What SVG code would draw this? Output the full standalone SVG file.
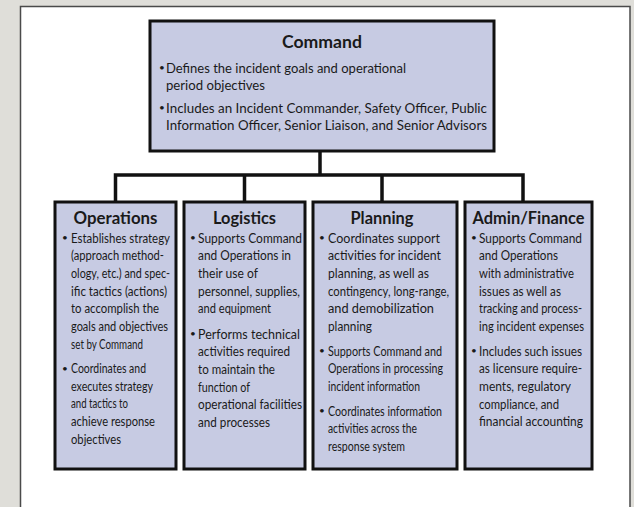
<svg xmlns="http://www.w3.org/2000/svg" width="634" height="507" viewBox="0 0 634 507">
<style>
.bg{fill:#dfded9}
.panel{fill:#ffffff;stroke:#4a4a4a;stroke-width:1.5}
.box{fill:#c7cbe3;stroke:#111111;stroke-width:3}
.conn{fill:none;stroke:#111111;stroke-width:3.5;stroke-linejoin:miter}
.title{font-family:Lato,"Open Sans","Liberation Sans",sans-serif;font-weight:bold;font-size:16.5px;fill:#1a1a1a;text-anchor:middle}
.t{font-family:Lato,"Open Sans","Liberation Sans",sans-serif;font-size:13.5px;fill:#1a1a1a}
.ct{font-family:Lato,"Open Sans","Liberation Sans",sans-serif;font-size:13px;fill:#1a1a1a}
.b{font-family:Lato,"Open Sans","Liberation Sans",sans-serif;font-size:10px;fill:#1a1a1a}
</style>
<rect class="bg" x="0" y="0" width="634" height="507"/>
<rect class="panel" x="20.5" y="6.5" width="609.5" height="520"/>
<g id="connectors">
<path class="conn" d="M320 151 V175 M115.5 202 V175 H523 V202 M244.5 175 V202 M382 175 V202"/>
</g>
<g id="command">
<rect class="box" x="150" y="21" width="344" height="130"/>
<text class="title" x="322" y="47.5" textLength="80" lengthAdjust="spacingAndGlyphs">Command</text>
<text class="b" x="159" y="71">•</text>
<text class="ct" x="166" y="72.5" textLength="240" lengthAdjust="spacingAndGlyphs">Defines the incident goals and operational</text>
<text class="ct" x="166" y="89.5" textLength="99" lengthAdjust="spacingAndGlyphs">period objectives</text>
<text class="b" x="159" y="111">•</text>
<text class="ct" x="166" y="112.5" textLength="321" lengthAdjust="spacingAndGlyphs">Includes an Incident Commander, Safety Officer,  Public</text>
<text class="ct" x="166" y="129.5" textLength="321" lengthAdjust="spacingAndGlyphs">Information Officer, Senior Liaison, and Senior Advisors</text>
</g>
<g id="operations">
<rect class="box" x="55" y="202" width="121" height="267"/>
<text class="title" x="115.5" y="223.5" textLength="84" lengthAdjust="spacingAndGlyphs">Operations</text>
<text class="b" x="62" y="241">•</text>
<text class="t" x="71" y="242.5" textLength="99" lengthAdjust="spacingAndGlyphs">Establishes strategy</text>
<text class="t" x="71" y="260.2" textLength="93" lengthAdjust="spacingAndGlyphs">(approach method-</text>
<text class="t" x="71" y="277.9" textLength="99" lengthAdjust="spacingAndGlyphs">ology, etc.) and spec-</text>
<text class="t" x="71" y="295.6" textLength="96" lengthAdjust="spacingAndGlyphs">ific tactics (actions)</text>
<text class="t" x="71" y="313.3" textLength="88" lengthAdjust="spacingAndGlyphs">to accomplish the</text>
<text class="t" x="71" y="331" textLength="97" lengthAdjust="spacingAndGlyphs">goals and objectives</text>
<text class="t" x="71" y="348.7" textLength="72" lengthAdjust="spacingAndGlyphs">set by Command</text>
<text class="b" x="62" y="371.5">•</text>
<text class="t" x="71" y="373" textLength="75" lengthAdjust="spacingAndGlyphs">Coordinates and</text>
<text class="t" x="71" y="390.7" textLength="82" lengthAdjust="spacingAndGlyphs">executes strategy</text>
<text class="t" x="71" y="408.4" textLength="57" lengthAdjust="spacingAndGlyphs">and tactics to</text>
<text class="t" x="71" y="426.1" textLength="84" lengthAdjust="spacingAndGlyphs">achieve response</text>
<text class="t" x="71" y="443.8" textLength="50" lengthAdjust="spacingAndGlyphs">objectives</text>
</g>
<g id="logistics">
<rect class="box" x="184" y="202" width="121" height="267"/>
<text class="title" x="244.5" y="223.5" textLength="63" lengthAdjust="spacingAndGlyphs">Logistics</text>
<text class="b" x="190" y="241">•</text>
<text class="t" x="198" y="242.5" textLength="104" lengthAdjust="spacingAndGlyphs">Supports Command</text>
<text class="t" x="198" y="260.2" textLength="93" lengthAdjust="spacingAndGlyphs">and Operations in</text>
<text class="t" x="198" y="277.9" textLength="60" lengthAdjust="spacingAndGlyphs">their use of</text>
<text class="t" x="198" y="295.6" textLength="102" lengthAdjust="spacingAndGlyphs">personnel, supplies,</text>
<text class="t" x="198" y="313.3" textLength="73" lengthAdjust="spacingAndGlyphs">and equipment</text>
<text class="b" x="190" y="337">•</text>
<text class="t" x="198" y="338.5" textLength="102" lengthAdjust="spacingAndGlyphs">Performs technical</text>
<text class="t" x="198" y="356.2" textLength="92" lengthAdjust="spacingAndGlyphs">activities required</text>
<text class="t" x="198" y="373.9" textLength="77" lengthAdjust="spacingAndGlyphs">to maintain the</text>
<text class="t" x="198" y="391.6" textLength="52" lengthAdjust="spacingAndGlyphs">function of</text>
<text class="t" x="198" y="409.3" textLength="104" lengthAdjust="spacingAndGlyphs">operational facilities</text>
<text class="t" x="198" y="427" textLength="72" lengthAdjust="spacingAndGlyphs">and processes</text>
</g>
<g id="planning">
<rect class="box" x="313" y="202" width="144" height="267"/>
<text class="title" x="382" y="223.5" textLength="63" lengthAdjust="spacingAndGlyphs">Planning</text>
<text class="b" x="319" y="241">•</text>
<text class="t" x="328" y="242.5" textLength="112" lengthAdjust="spacingAndGlyphs">Coordinates support</text>
<text class="t" x="328" y="260.2" textLength="113" lengthAdjust="spacingAndGlyphs">activities for incident</text>
<text class="t" x="328" y="277.9" textLength="101" lengthAdjust="spacingAndGlyphs">planning,  as well as</text>
<text class="t" x="328" y="295.6" textLength="121" lengthAdjust="spacingAndGlyphs">contingency, long-range,</text>
<text class="t" x="328" y="313.3" textLength="106" lengthAdjust="spacingAndGlyphs">and demobilization</text>
<text class="t" x="328" y="331" textLength="44" lengthAdjust="spacingAndGlyphs">planning</text>
<text class="b" x="319" y="354">•</text>
<text class="t" x="328" y="355.5" textLength="114" lengthAdjust="spacingAndGlyphs">Supports Command and</text>
<text class="t" x="328" y="373.2" textLength="115" lengthAdjust="spacingAndGlyphs">Operations in processing</text>
<text class="t" x="328" y="390.9" textLength="92" lengthAdjust="spacingAndGlyphs">incident information</text>
<text class="b" x="319" y="414">•</text>
<text class="t" x="328" y="415.5" textLength="114" lengthAdjust="spacingAndGlyphs">Coordinates information</text>
<text class="t" x="328" y="433.2" textLength="89" lengthAdjust="spacingAndGlyphs">activities across the</text>
<text class="t" x="328" y="450.9" textLength="77" lengthAdjust="spacingAndGlyphs">response system</text>
</g>
<g id="admin-finance">
<rect class="box" x="465" y="202" width="127" height="267"/>
<text class="title" x="528.5" y="223.5" textLength="112" lengthAdjust="spacingAndGlyphs">Admin/Finance</text>
<text class="b" x="471" y="241">•</text>
<text class="t" x="479" y="242.5" textLength="103" lengthAdjust="spacingAndGlyphs">Supports Command</text>
<text class="t" x="479" y="260.2" textLength="79" lengthAdjust="spacingAndGlyphs">and Operations</text>
<text class="t" x="479" y="277.9" textLength="95" lengthAdjust="spacingAndGlyphs">with administrative</text>
<text class="t" x="479" y="295.6" textLength="82" lengthAdjust="spacingAndGlyphs">issues as well as</text>
<text class="t" x="479" y="313.3" textLength="103" lengthAdjust="spacingAndGlyphs">tracking and process-</text>
<text class="t" x="479" y="331" textLength="105" lengthAdjust="spacingAndGlyphs">ing incident expenses</text>
<text class="b" x="471" y="354">•</text>
<text class="t" x="479" y="355.5" textLength="103" lengthAdjust="spacingAndGlyphs">Includes such issues</text>
<text class="t" x="479" y="373.2" textLength="103" lengthAdjust="spacingAndGlyphs">as licensure require-</text>
<text class="t" x="479" y="390.9" textLength="92" lengthAdjust="spacingAndGlyphs">ments, regulatory</text>
<text class="t" x="479" y="408.6" textLength="80" lengthAdjust="spacingAndGlyphs">compliance, and</text>
<text class="t" x="479" y="426.3" textLength="104" lengthAdjust="spacingAndGlyphs">financial accounting</text>
</g>
</svg>
